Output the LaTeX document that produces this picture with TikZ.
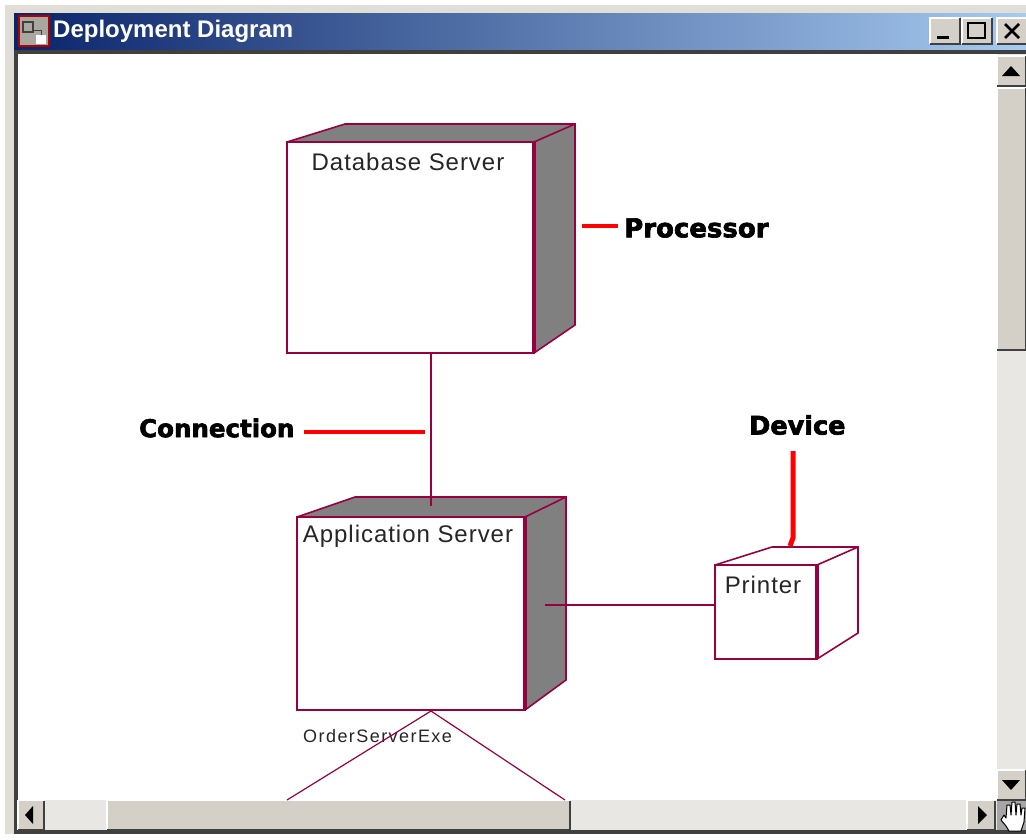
\documentclass[tikz,border=0pt]{standalone}
\usepackage{fontspec}
\setmainfont{Liberation Sans}
\newfontfamily\nodefont[LetterSpace=4]{Liberation Sans}
\newfontfamily\smallfont[LetterSpace=8]{Liberation Sans}
\newfontfamily\notefont[FakeBold=2.5]{DejaVu Sans Bold}
\definecolor{umlline}{RGB}{153,0,64}
\definecolor{wingrey}{RGB}{212,208,200}
\definecolor{windark}{RGB}{64,64,64}
\definecolor{winshadow}{RGB}{128,128,128}
\definecolor{wincheck}{RGB}{233,231,227}
\tikzset{
  front/.style={draw=umlline,line width=1.6pt,fill=white,inner sep=0pt,outer sep=0pt},
  umledge/.style={draw=umlline,line width=1.6pt},
  thinedge/.style={draw=umlline,line width=1.2pt},
  pointer/.style={draw=red,line width=4.5pt},
  nodetext/.style={font=\fontsize{24}{24}\selectfont\nodefont,text=black!85},
  notetext/.style={text=black,anchor=west,inner sep=0pt},
  winbtn/.style={fill=wingrey,inner sep=0pt,outer sep=0pt},
}
\begin{document}
\begin{tikzpicture}[x=1pt,y=-1pt]
  \useasboundingbox (0,0) rectangle (1026,839);
  % window frame
  \fill[white] (0,0) rectangle (1026,839);
  \fill[wingrey!70!white] (5,5) rectangle (1026,834);
  \shade[left color={rgb,255:red,10;green,36;blue,106},right color={rgb,255:red,166;green,202;blue,240}] (14,13) rectangle (1026,50);
  \fill[windark] (14,50) rectangle (1026,54);
  \fill[windark] (14,50) rectangle (18,830);
  \fill[white] (18,54) rectangle (1026,800);
  % title bar
  \fill[red!70!black] (18,15) rectangle (50,47);
  \fill[wingrey!80!black] (20,17) rectangle (48,45);
  \draw[windark,line width=1.5pt] (23,22) rectangle (33,32);
  \draw[windark,line width=1pt] (33,30) -- (41,30) -- (41,35);
  \fill[white] (36,35) rectangle (46,44);
  \node[anchor=west,text=white,font=\fontsize{24}{24}\selectfont\bfseries,inner sep=0pt] (title) at (53,31) {Deployment Diagram};
  \node[winbtn,minimum width=30pt,minimum height=26pt] (minbtn) at (945,31) {};
  \node[winbtn,minimum width=30pt,minimum height=26pt] (maxbtn) at (977,31) {};
  \node[winbtn,minimum width=30pt,minimum height=26pt] (closebtn) at (1012,31) {};
  \fill[black] (937,36) rectangle (949,39);
  \draw[black,line width=2pt] (968,23) rectangle (985,38);
  \draw[black,line width=2.6pt] (1005,24) -- (1019,38);
  \draw[black,line width=2.6pt] (1019,24) -- (1005,38);
  % scroll bars
  \fill[wincheck] (997,54) rectangle (1026,800);
  \fill[wincheck] (18,800) rectangle (997,830);
  \node[winbtn,minimum width=29pt,minimum height=30pt] (upbtn) at (1011.5,71) {};
  \node[winbtn,minimum width=29pt,minimum height=262pt] (vthumb) at (1011.5,219) {};
  \node[winbtn,minimum width=29pt,minimum height=30pt] (downbtn) at (1011.5,785) {};
  \node[winbtn,minimum width=26pt,minimum height=29pt] (leftbtn) at (31,815) {};
  \node[winbtn,minimum width=463pt,minimum height=29pt] (hthumb) at (338.5,815) {};
  \node[winbtn,minimum width=28pt,minimum height=29pt] (rightbtn) at (981,815) {};
  \foreach \btn in {minbtn,maxbtn,closebtn,upbtn,vthumb,downbtn,leftbtn,hthumb,rightbtn} {
    \draw[white,line width=1.4pt] (\btn.south west) -- (\btn.north west) -- (\btn.north east);
    \draw[windark,line width=1.6pt] (\btn.south west) -- (\btn.south east) -- (\btn.north east);
  }
  \fill[black] (1011,66) -- (1020,76) -- (1002,76) -- cycle;
  \fill[black] (1011,790) -- (1020,780) -- (1002,780) -- cycle;
  \fill[black] (25,815) -- (33,806) -- (33,824) -- cycle;
  \fill[black] (987,815) -- (978,806) -- (978,824) -- cycle;
  \fill[winshadow!70!white] (997,801) rectangle (1026,830);
  \fill[windark] (14,830) rectangle (1026,834);
  \draw[black,fill=white,line width=1pt,line join=round] (1004,815) -- (1001,820) -- (1006,826) -- (1009,831) -- (1021,831) -- (1024,822) -- (1025,808) -- (1022,808) -- (1021,815) -- (1020,804) -- (1017,804) -- (1016,815) -- (1015,802) -- (1012,802) -- (1011,815) -- (1010,805) -- (1007,805) -- (1006,818) -- cycle;
  \node[text=black!85,anchor=west,inner sep=0pt,font=\fontsize{18}{18}\selectfont\smallfont] (artifact) at (303,736) {OrderServerExe};
  % database server
  \fill[winshadow] (345,124) -- (575,124) -- (575,325) -- (534,353) -- (534,142) -- (287,142) -- cycle;
  \draw[umledge] (287,142) -- (345,124) -- (575,124) -- (575,325) -- (534,353);
  \draw[umledge] (534,142) -- (575,124);
  \node[front,minimum width=247pt,minimum height=211pt,anchor=north west] (dbserver) at (287,142) {};
  \draw[umledge,line width=3.4pt] (dbserver.north east) -- (dbserver.south east);
  \node[nodetext,inner sep=0pt] (dblabel) at (408,162) {Database Server};
  % application server
  \fill[winshadow] (355,497) -- (566,497) -- (566,680) -- (525,710) -- (525,517) -- (297,517) -- cycle;
  \draw[umledge] (297,517) -- (355,497) -- (566,497) -- (566,680) -- (525,710);
  \draw[umledge] (525,517) -- (566,497);
  \node[front,minimum width=228pt,minimum height=193pt,anchor=north west] (appserver) at (297,517) {};
  \draw[umledge,line width=3.4pt] (appserver.north east) -- (appserver.south east);
  \node[nodetext,inner sep=0pt] (applabel) at (408,536) {Application Server};
  % printer
  \draw[umledge] (715,565) -- (772,547) -- (858,547) -- (858,633) -- (817,659);
  \draw[umledge] (817,565) -- (858,547);
  \node[front,minimum width=102pt,minimum height=94pt,anchor=north west] (printer) at (715,565) {};
  \draw[umledge,line width=3.4pt] (printer.north east) -- (printer.south east);
  \node[nodetext,inner sep=0pt] (printerlabel) at (763,585) {Printer};
  % connections
  \coordinate (dbout) at (431,353);
  \coordinate (appin) at (431,506);
  \coordinate (appside) at (545,605);
  \coordinate (printerin) at (printer.west |- appside);
  \coordinate (apex) at (431,711);
  \coordinate (leftend) at (287,800);
  \coordinate (rightend) at (565,800);
  \draw[umledge] (dbout) -- (appin);
  \draw[umledge] (appside) -- (printerin);
  \draw[thinedge] (leftend) -- (apex) -- (rightend);
  % notes
  \node[notetext,font=\fontsize{26}{26}\selectfont\notefont] (processor) at (624,228) {Processor};
  \node[notetext,font=\fontsize{24.5}{26}\selectfont\notefont] (connection) at (139,428) {Connection};
  \node[notetext,font=\fontsize{25.5}{26}\selectfont\notefont] (device) at (749,425) {Device};
  \coordinate (processortip) at (582,226);
  \coordinate (processorstart) at (618,226);
  \coordinate (connectiontip) at (425,432);
  \coordinate (connectionstart) at (304,432);
  \coordinate (devicestart) at (793,451);
  \coordinate (devicebend) at (793,538);
  \coordinate (devicetip) at (790,546);
  \draw[pointer] (processortip) -- (processorstart);
  \draw[pointer] (connectionstart) -- (connectiontip);
  \draw[pointer,line width=5pt] (devicestart) -- (devicebend) -- (devicetip);
\end{tikzpicture}
\end{document}
